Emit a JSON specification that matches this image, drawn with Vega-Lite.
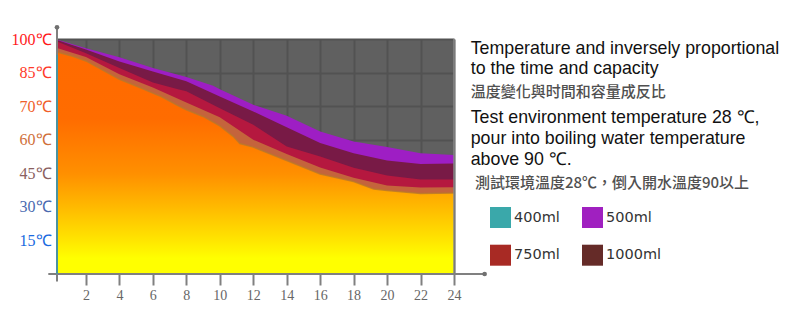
{
  "$schema": "https://vega.github.io/schema/vega-lite/v6.json",
  "width": 397,
  "height": 235,
  "autosize": {"type": "none"},
  "padding": {"left": 57, "top": 39, "right": 336, "bottom": 56},
  "background": "white",
  "view": {"fill": "#606060", "stroke": null},
  "data": {"values": [
    {"t": 0.27, "series": "500ml", "temp": 104.8}, {"t": 1.2, "series": "500ml", "temp": 102.6}, {"t": 2, "series": "500ml", "temp": 100.9}, {"t": 4, "series": "500ml", "temp": 96.9}, {"t": 6, "series": "500ml", "temp": 92.0}, {"t": 8, "series": "500ml", "temp": 88.0}, {"t": 9.6, "series": "500ml", "temp": 84.1}, {"t": 10, "series": "500ml", "temp": 82.6}, {"t": 12, "series": "500ml", "temp": 75.6}, {"t": 14, "series": "500ml", "temp": 70.7}, {"t": 16, "series": "500ml", "temp": 63.7}, {"t": 18, "series": "500ml", "temp": 59.2}, {"t": 20, "series": "500ml", "temp": 56.7}, {"t": 22, "series": "500ml", "temp": 54.0}, {"t": 24, "series": "500ml", "temp": 53.2},
    {"t": 0.27, "series": "1000ml", "temp": 104.6}, {"t": 2, "series": "1000ml", "temp": 100.3}, {"t": 4, "series": "1000ml", "temp": 95.0}, {"t": 6, "series": "1000ml", "temp": 90.5}, {"t": 8, "series": "1000ml", "temp": 86.1}, {"t": 10, "series": "1000ml", "temp": 79.3}, {"t": 12, "series": "1000ml", "temp": 72.6}, {"t": 14, "series": "1000ml", "temp": 65.6}, {"t": 16, "series": "1000ml", "temp": 58.5}, {"t": 18, "series": "1000ml", "temp": 54.0}, {"t": 20, "series": "1000ml", "temp": 50.7}, {"t": 22, "series": "1000ml", "temp": 49.1}, {"t": 24, "series": "1000ml", "temp": 49.4},
    {"t": 0.27, "series": "750ml", "temp": 103.9}, {"t": 2, "series": "750ml", "temp": 98.6}, {"t": 4, "series": "750ml", "temp": 92.0}, {"t": 6, "series": "750ml", "temp": 85.6}, {"t": 7.5, "series": "750ml", "temp": 82.6}, {"t": 8, "series": "750ml", "temp": 81.6}, {"t": 10, "series": "750ml", "temp": 74.1}, {"t": 12, "series": "750ml", "temp": 66.7}, {"t": 14, "series": "750ml", "temp": 57.0}, {"t": 16, "series": "750ml", "temp": 52.5}, {"t": 18, "series": "750ml", "temp": 47.5}, {"t": 20, "series": "750ml", "temp": 44.0}, {"t": 22, "series": "750ml", "temp": 42.2}, {"t": 24, "series": "750ml", "temp": 42.2},
    {"t": 0.27, "series": "edge", "temp": 101.0}, {"t": 2, "series": "edge", "temp": 97.0}, {"t": 4, "series": "edge", "temp": 89.2}, {"t": 6, "series": "edge", "temp": 83.3}, {"t": 8, "series": "edge", "temp": 76.6}, {"t": 10, "series": "edge", "temp": 70.0}, {"t": 12, "series": "edge", "temp": 60.0}, {"t": 14, "series": "edge", "temp": 53.6}, {"t": 16, "series": "edge", "temp": 47.6}, {"t": 18, "series": "edge", "temp": 43.0}, {"t": 20, "series": "edge", "temp": 39.5}, {"t": 22, "series": "edge", "temp": 38.6}, {"t": 24, "series": "edge", "temp": 38.8},
    {"t": 0.27, "series": "400ml", "temp": 99.2}, {"t": 1.26, "series": "400ml", "temp": 97.2}, {"t": 2, "series": "400ml", "temp": 95.2}, {"t": 4, "series": "400ml", "temp": 87.0}, {"t": 5, "series": "400ml", "temp": 84.0}, {"t": 6, "series": "400ml", "temp": 80.8}, {"t": 6.5, "series": "400ml", "temp": 79.3}, {"t": 7.5, "series": "400ml", "temp": 75.2}, {"t": 8, "series": "400ml", "temp": 73.4}, {"t": 9, "series": "400ml", "temp": 70.4}, {"t": 10, "series": "400ml", "temp": 66.2}, {"t": 10.8, "series": "400ml", "temp": 61.5}, {"t": 11.2, "series": "400ml", "temp": 58.3}, {"t": 12, "series": "400ml", "temp": 56.7}, {"t": 14, "series": "400ml", "temp": 50.7}, {"t": 16, "series": "400ml", "temp": 44.7}, {"t": 18, "series": "400ml", "temp": 41.3}, {"t": 19.2, "series": "400ml", "temp": 38.0}, {"t": 20, "series": "400ml", "temp": 37.3}, {"t": 22, "series": "400ml", "temp": 36.0}, {"t": 24, "series": "400ml", "temp": 36.2}
  ]},
  "encoding": {
    "x": {
      "type": "quantitative", "title": null,
      "scale": {"domain": [0.27, 24], "nice": false, "zero": false},
      "axis": {
        "values": [2, 4, 6, 8, 10, 12, 14, 16, 18, 20, 22, 24],
        "domain": false, "tickSize": 11, "tickWidth": 2, "tickColor": "#808080",
        "labelFont": "Liberation Serif", "labelFontSize": 14, "labelColor": "#666666",
        "labelPadding": 3, "labelFlush": false, "labelOverlap": false,
        "grid": true, "gridColor": "#525252", "gridWidth": 2
      }
    },
    "y": {
      "type": "quantitative", "title": null,
      "scale": {"domain": [0, 105], "nice": false},
      "axis": {
        "values": [15, 30, 45, 60, 75, 90, 105],
        "domain": false, "ticks": false, "tickSize": 0, "labelPadding": 6,
        "labelFont": "Liberation Serif", "labelFontSize": 16, "labelFlush": false, "labelOverlap": false,
        "labelExpr": "datum.value == 105 ? '100℃' : datum.value == 90 ? '85℃' : datum.value == 75 ? '70℃' : datum.value + '℃'",
        "labelColor": {"condition": [
          {"test": "datum.value == 105", "value": "#FF1A1A"},
          {"test": "datum.value == 90", "value": "#FF3A2A"},
          {"test": "datum.value == 75", "value": "#F0602A"},
          {"test": "datum.value == 60", "value": "#D0703A"},
          {"test": "datum.value == 45", "value": "#8A6060"},
          {"test": "datum.value == 30", "value": "#4A6AB0"}
        ], "value": "#1A6AE0"},
        "grid": true, "gridColor": "#525252", "gridWidth": 2
      }
    }
  },
  "layer": [
    {"transform": [{"filter": "datum.series == '500ml'"}], "mark": {"type": "area", "color": "#9E1EC4"}, "encoding": {"x": {"field": "t"}, "y": {"field": "temp"}}},
    {"transform": [{"filter": "datum.series == '1000ml'"}], "mark": {"type": "area", "color": "#781A46"}, "encoding": {"x": {"field": "t"}, "y": {"field": "temp"}}},
    {"transform": [{"filter": "datum.series == '750ml'"}], "mark": {"type": "area", "color": "#B5183F"}, "encoding": {"x": {"field": "t"}, "y": {"field": "temp"}}},
    {"transform": [{"filter": "datum.series == 'edge'"}], "mark": {"type": "area", "color": "#C4643C"}, "encoding": {"x": {"field": "t"}, "y": {"field": "temp"}}},
    {"transform": [{"filter": "datum.series == '400ml'"}], "mark": {"type": "area", "color": {"gradient": "linear", "x1": 0, "y1": 0, "x2": 0, "y2": 1, "stops": [
      {"offset": 0, "color": "#FF6A00"}, {"offset": 0.3, "color": "#FF6C00"}, {"offset": 0.55, "color": "#FF9000"}, {"offset": 0.7, "color": "#FFBA00"}, {"offset": 0.85, "color": "#FFE600"}, {"offset": 0.93, "color": "#FFFF00"}, {"offset": 1, "color": "#FFFF00"}]}}, "encoding": {"x": {"field": "t"}, "y": {"field": "temp"}}},
    {"transform": [{"filter": "datum.series == '400ml'"}], "mark": {"type": "line", "color": "#B8782C", "strokeWidth": 1.5, "opacity": 0.8}, "encoding": {"x": {"field": "t"}, "y": {"field": "temp"}}},
    {"transform": [{"filter": "datum.series != 'edge'"}],
      "mark": {"type": "square", "opacity": 0},
      "encoding": {"x": {"field": "t"}, "y": {"field": "temp"},
        "color": {"field": "series", "type": "nominal",
        "scale": {"domain": ["400ml", "500ml", "750ml", "1000ml"], "range": ["#3AA8AA", "#A020C0", "#A82A24", "#652B28"]},
        "legend": {"title": null, "orient": "none", "legendX": 433, "legendY": 168, "columns": 2, "direction": "horizontal",
          "symbolType": "square", "symbolSize": 441, "symbolOpacity": 1, "symbolStrokeWidth": 0,
          "labelFont": "DejaVu Sans", "labelFontSize": 14.5, "labelColor": "#333333", "labelOffset": 3,
          "columnPadding": 22, "rowPadding": 16.7, "padding": 0}}}},
    {"data": {"values": [{"k": 1}]}, "mark": {"type": "rule", "color": "#8A8A8A", "strokeWidth": 1.5, "clip": false}, "encoding": {"x": {"datum": 24}, "y": {"datum": 0}, "y2": {"datum": 105}}},
    {"data": {"values": [{"k": 1}]}, "mark": {"type": "rule", "color": "#808080", "strokeWidth": 2, "clip": false}, "encoding": {"x": {"datum": -0.25}, "x2": {"datum": 25.83}, "y": {"datum": 0}}},
    {"data": {"values": [{"k": 1}]}, "mark": {"type": "rule", "color": "#808080", "strokeWidth": 2, "clip": false}, "encoding": {"x": {"datum": 0.27}, "y": {"datum": -3.4}, "y2": {"datum": 110.2}}},
    {"data": {"values": [{"k": 1}]}, "mark": {"type": "rule", "color": "#3A9AAA", "strokeWidth": 1.5, "clip": false}, "encoding": {"x": {"datum": 0.27}, "y": {"datum": 0}, "y2": {"datum": 98}}},
    {"data": {"values": [{"k": 1}]}, "mark": {"type": "point", "filled": true, "size": 22, "color": "#707070", "opacity": 1, "clip": false}, "encoding": {"x": {"datum": 25.83}, "y": {"datum": 0}}},
    {"data": {"values": [{"k": 1}]}, "mark": {"type": "point", "filled": true, "size": 22, "color": "#707070", "opacity": 1, "clip": false}, "encoding": {"x": {"datum": 0.27}, "y": {"datum": 110.2}}},
    {"data": {"values": [{"k": 1}]}, "mark": {"type": "text", "clip": false, "align": "left", "baseline": "alphabetic", "font": "Liberation Sans", "fontSize": 17.8, "lineHeight": 20.3, "color": "#111111",
      "text": ["Temperature and inversely proportional", "to the time and capacity"]},
      "encoding": {"x": {"datum": 25.0}, "y": {"datum": 98.3}}},
    {"data": {"values": [{"k": 1}]}, "mark": {"type": "text", "clip": false, "align": "left", "baseline": "alphabetic", "font": "Noto Sans CJK TC", "fontSize": 15, "fontWeight": 500, "color": "#505050",
      "text": "温度變化與时間和容量成反比"},
      "encoding": {"x": {"datum": 25.0}, "y": {"datum": 79.3}}},
    {"data": {"values": [{"k": 1}]}, "mark": {"type": "text", "clip": false, "align": "left", "baseline": "alphabetic", "font": "Liberation Sans", "fontSize": 17.8, "lineHeight": 20.9, "color": "#111111",
      "text": ["Test environment temperature 28 ℃,", "\u2002pour into boiling water temperature", "above 90 ℃."]},
      "encoding": {"x": {"datum": 25.0}, "y": {"datum": 67.3}}},
    {"data": {"values": [{"k": 1}]}, "mark": {"type": "text", "clip": false, "align": "left", "baseline": "alphabetic", "font": "Noto Sans CJK TC", "fontSize": 15, "fontWeight": 500, "color": "#505050",
      "text": "測試環境溫度28℃，倒入開水溫度90以上"},
      "encoding": {"x": {"datum": 25.25}, "y": {"datum": 38.4}}}
  ]
}
